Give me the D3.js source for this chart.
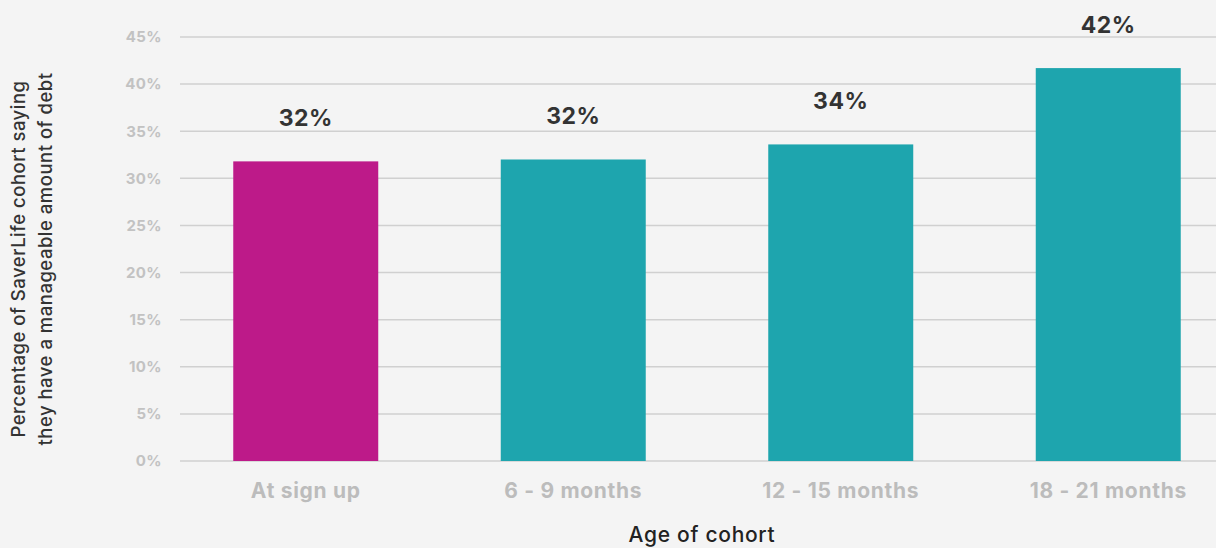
<!DOCTYPE html>
<html>
<head>
<meta charset="utf-8">
<script src="https://cdn.jsdelivr.net/npm/d3@7/dist/d3.min.js"></script>
<style>
  html, body { margin: 0; padding: 0; background: #f4f4f4; }
  svg { display: block; font-family: "Inter", "Noto Sans", sans-serif; }
</style>
</head>
<body>
<svg id="chart" width="1216" height="548"></svg>
<script>
// Share of each SaverLife cohort reporting a manageable amount of debt
const cohorts = ["At sign up", "6 - 9 months", "12 - 15 months", "18 - 21 months"];
const shares = [0.318, 0.32, 0.336, 0.417];
const barColors = ["#bd1a89", "#1ea5ae", "#1ea5ae", "#1ea5ae"];
const yTicks = [0, 0.05, 0.10, 0.15, 0.20, 0.25, 0.30, 0.35, 0.40, 0.45];

const svg = d3.select("#chart");
const W = 1216, H = 548;
const gridLeft = 180;

const x = d3.scaleBand()
  .domain(cohorts)
  .range([172, 1242])
  .paddingInner(0.458)
  .paddingOuter(0.229);

const y = d3.scaleLinear()
  .domain([0, 0.45])
  .range([461, 37]);

// left tick labels
const yAxis = d3.axisLeft(y)
  .tickValues(yTicks)
  .tickFormat(d3.format(".0%"))
  .tickSize(0)
  .tickPadding(18);

const gy = svg.append("g")
  .attr("transform", `translate(${gridLeft},0)`)
  .call(yAxis);
gy.select(".domain").remove();
gy.selectAll("text")
  .attr("fill", "#c2c2c2")
  .attr("font-family", "Inter, sans-serif")
  .attr("font-size", 15)
  .attr("font-weight", 700)
  .attr("letter-spacing", 0.4);

// horizontal gridlines
svg.append("g")
  .selectAll("line")
  .data(yTicks)
  .join("line")
  .attr("x1", gridLeft)
  .attr("x2", W)
  .attr("y1", d => y(d))
  .attr("y2", d => y(d))
  .attr("stroke", "#d0d0d0")
  .attr("stroke-width", 1.5);

// bars
svg.append("g")
  .selectAll("rect")
  .data(cohorts)
  .join("rect")
  .attr("x", d => x(d))
  .attr("width", x.bandwidth())
  .attr("y", (d, i) => y(shares[i]))
  .attr("height", (d, i) => y(0) - y(shares[i]))
  .attr("fill", (d, i) => barColors[i]);

// value labels above bars
svg.append("g")
  .selectAll("text")
  .data(cohorts)
  .join("text")
  .attr("x", d => x(d) + x.bandwidth() / 2)
  .attr("y", (d, i) => y(shares[i]) - 35)
  .attr("text-anchor", "middle")
  .attr("fill", "#333333")
  .attr("font-size", 23)
  .attr("font-weight", 700)
  .attr("letter-spacing", 0.5)
  .text((d, i) => d3.format(".0%")(shares[i]));

// category axis
const xAxis = d3.axisBottom(x).tickSize(0).tickPadding(22);
const gx = svg.append("g")
  .attr("transform", `translate(0,${y(0)})`)
  .call(xAxis);
gx.select(".domain").remove();
gx.selectAll("text")
  .attr("fill", "#bcbcbc")
  .attr("font-family", "Inter, sans-serif")
  .attr("font-size", 21)
  .attr("font-weight", 700)
  .attr("letter-spacing", 0.7);

// axis titles
svg.append("text")
  .attr("x", 702)
  .attr("y", 542)
  .attr("text-anchor", "middle")
  .attr("fill", "#222222")
  .attr("font-size", 21)
  .attr("font-weight", 500)
  .attr("letter-spacing", 0.7)
  .text("Age of cohort");

const yTitle = svg.append("text")
  .attr("transform", "translate(25,259) rotate(-90)")
  .attr("text-anchor", "middle")
  .attr("fill", "#333333")
  .attr("font-size", 18.5)
  .attr("font-weight", 500)
  .attr("letter-spacing", 0.5);
yTitle.append("tspan").attr("x", 0).attr("dy", 0)
  .text("Percentage of SaverLife cohort saying");
yTitle.append("tspan").attr("x", 0).attr("dy", 27)
  .text("they have a manageable amount of debt");
</script>
</body>
</html>
